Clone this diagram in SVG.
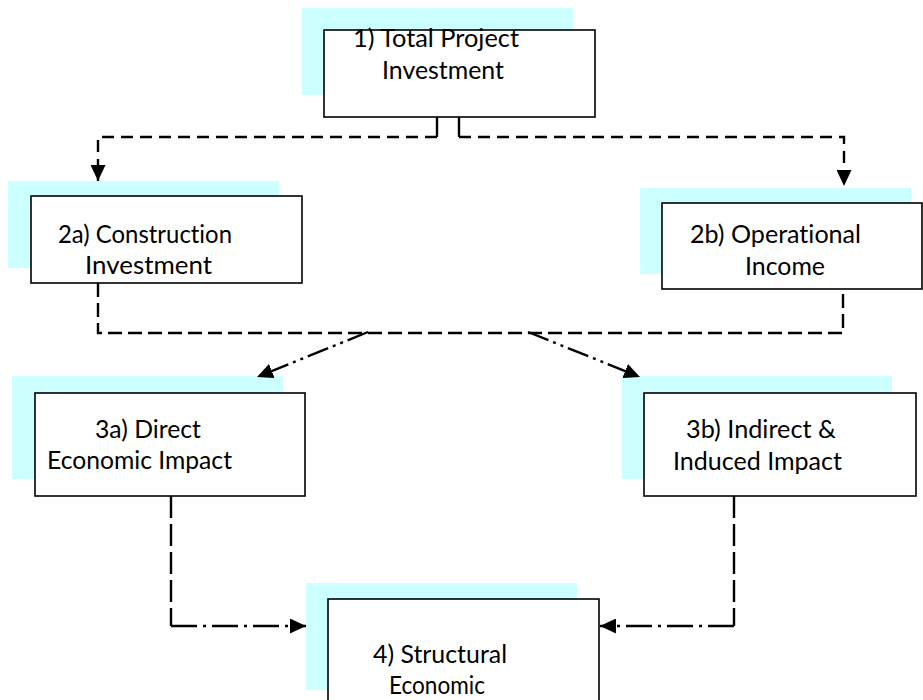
<svg xmlns="http://www.w3.org/2000/svg" width="923" height="700" viewBox="0 0 923 700">
<style>
.sh{fill:#ccffff;stroke:none}
.bx{fill:#ffffff;stroke:#000;stroke-width:1.6}
.t{font-family:Lato,"Liberation Sans",sans-serif;font-size:25px;fill:#000;font-variant-ligatures:none;font-feature-settings:"liga" 0}
.c{fill:none;stroke:#000;stroke-width:2.4}
.d1{stroke-dasharray:12 7}
.d2{stroke-dasharray:14 6}
.d3{stroke-dasharray:22 6}
.dd{stroke-dasharray:22 5 3 5 3 5}
.da{stroke-dasharray:26 6 3 6}
</style>
<defs>
<marker id="ah" markerUnits="userSpaceOnUse" markerWidth="17" markerHeight="15" refX="16" refY="7.5" orient="auto">
<path d="M0,0 L16,7.5 L0,15 Z" fill="#000"/>
</marker>
</defs>
<g id="n1">
<rect class="sh" x="302" y="8" width="271" height="87"/>
<rect class="bx" x="324" y="30" width="271" height="87"/>
<text class="t" x="353" y="47" textLength="166" lengthAdjust="spacingAndGlyphs">1) Total Project</text>
<text class="t" x="382" y="79" textLength="122" lengthAdjust="spacingAndGlyphs">Investment</text>
</g>
<g id="n2a">
<rect class="sh" x="8" y="181" width="271" height="87"/>
<rect class="bx" x="31" y="196" width="271" height="87"/>
<text class="t" x="58" y="243" textLength="174" lengthAdjust="spacingAndGlyphs">2a) Construction</text>
<text class="t" x="85" y="274" textLength="127" lengthAdjust="spacingAndGlyphs">Investment</text>
</g>
<g id="n2b">
<rect class="sh" x="640" y="188" width="271" height="86"/>
<rect class="bx" x="662" y="203" width="260" height="86"/>
<text class="t" x="690" y="243" textLength="171" lengthAdjust="spacingAndGlyphs">2b) Operational</text>
<text class="t" x="745" y="275" textLength="80" lengthAdjust="spacingAndGlyphs">Income</text>
</g>
<g id="n3a">
<rect class="sh" x="12" y="376" width="271" height="103"/>
<rect class="bx" x="35" y="393" width="270" height="103"/>
<text class="t" x="95" y="438" textLength="106" lengthAdjust="spacingAndGlyphs">3a) Direct</text>
<text class="t" x="47" y="469" textLength="185" lengthAdjust="spacingAndGlyphs">Economic Impact</text>
</g>
<g id="n3b">
<rect class="sh" x="622" y="376" width="270" height="103"/>
<rect class="bx" x="644" y="393" width="272" height="103"/>
<text class="t" x="686" y="438" textLength="150" lengthAdjust="spacingAndGlyphs">3b) Indirect &amp;</text>
<text class="t" x="673" y="470" textLength="169" lengthAdjust="spacingAndGlyphs">Induced Impact</text>
</g>
<g id="n4">
<rect class="sh" x="306" y="583" width="271" height="107"/>
<rect class="bx" x="328" y="599" width="271" height="120"/>
<text class="t" x="373" y="663" textLength="134" lengthAdjust="spacingAndGlyphs">4) Structural</text>
<text class="t" x="389" y="694" textLength="96" lengthAdjust="spacingAndGlyphs">Economic</text>
</g>
<g id="connectors">
<path class="c" d="M437,117 V137"/>
<path class="c" d="M459,117 V137"/>
<path class="c d1" d="M437,137 H98 V181" marker-end="url(#ah)"/>
<path class="c d1" d="M459,137 H844 V186" marker-end="url(#ah)"/>
<path class="c d2" d="M98,283 V333 H843 V289"/>
<path class="c dd" d="M368,332 L257,377" marker-end="url(#ah)"/>
<path class="c dd" d="M528,332 L640,377" marker-end="url(#ah)"/>
<path class="c d3" d="M171,496 V626"/>
<path class="c da" d="M171,626 H306" marker-end="url(#ah)"/>
<path class="c d3" d="M734,496 V626"/>
<path class="c da" d="M734,626 H600" marker-end="url(#ah)"/>
</g>
</svg>
